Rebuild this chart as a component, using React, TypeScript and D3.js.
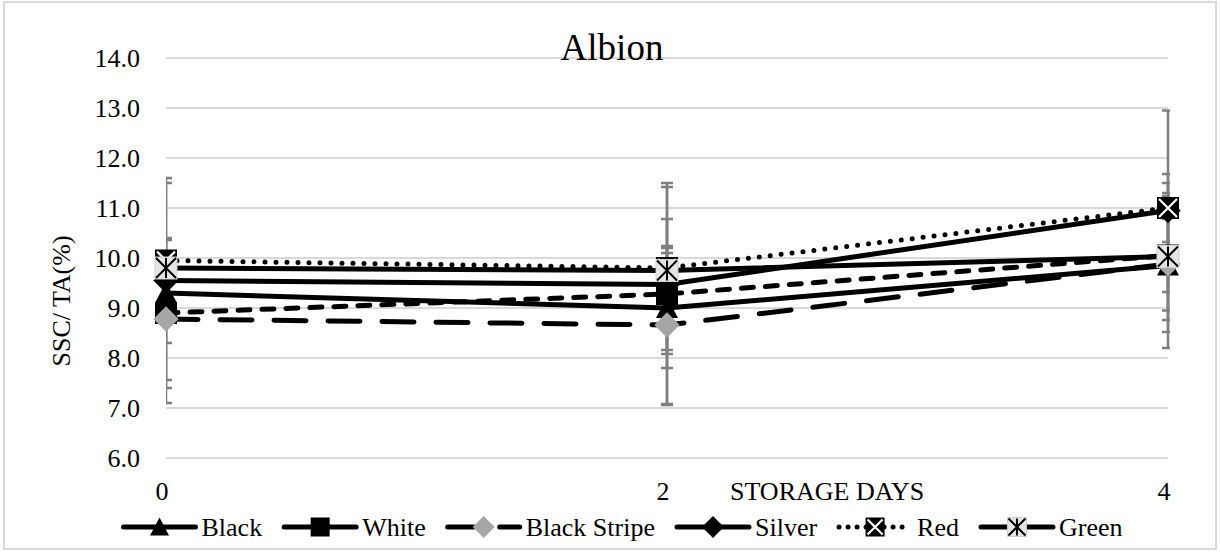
import { useEffect, useRef } from 'react';
import * as d3 from 'd3';

const days = [0, 2, 4];
const yTicks = [6, 7, 8, 9, 10, 11, 12, 13, 14];
const seriesNames = ['Black', 'White', 'Black Stripe', 'Silver', 'Red', 'Green'];

const blackVals = [9.3, 9.0, 9.85];
const whiteVals = [8.9, 9.28, 10.05];
const blackStripeVals = [8.78, 8.66, 9.88];
const silverVals = [9.55, 9.47, 10.95];
const redVals = [9.95, 9.8, 11.0];
const greenVals = [9.8, 9.75, 10.03];

const blackErr = [2.2, 1.2, 1.65];
const whiteErr = [1.5, 2.22, 0.73];
const blackStripeErr = [1.22, 1.58, 1.36];
const silverErr = [0.4, 1.31, 2.0];
const redErr = [1.65, 0.3, 0.68];
const greenErr = [0.56, 1.67, 1.27];

const values = [blackVals, whiteVals, blackStripeVals, silverVals, redVals, greenVals];
const errors = [blackErr, whiteErr, blackStripeErr, silverErr, redErr, greenErr];
const markers = ['triangle', 'square', 'grayDiamond', 'diamond', 'boxX', 'boxStar'];
const dashes = [null, '12 12', '32 22', null, '0 11', null];
const legendDashes = [null, null, '26 26', null, '0 9', null];

const W = 1220;
const H = 553;
const FONT = "'Liberation Serif', 'Times New Roman', 'DejaVu Serif', serif";

function drawMarker(g: any, type: string, cx: number, cy: number, s: number) {
  const h = s / 2;
  if (type === 'triangle') {
    g.append('path')
      .attr('d', `M${cx},${cy - h}L${cx + h},${cy + h * 0.9}L${cx - h},${cy + h * 0.9}Z`)
      .attr('fill', '#000');
  } else if (type === 'square') {
    g.append('rect').attr('x', cx - h).attr('y', cy - h).attr('width', s).attr('height', s).attr('fill', '#000');
  } else if (type === 'grayDiamond' || type === 'diamond') {
    const d = h * 1.15;
    g.append('path')
      .attr('d', `M${cx},${cy - d}L${cx + d},${cy}L${cx},${cy + d}L${cx - d},${cy}Z`)
      .attr('fill', type === 'diamond' ? '#000' : '#a6a6a6');
  } else if (type === 'boxX') {
    g.append('rect').attr('x', cx - h).attr('y', cy - h).attr('width', s).attr('height', s).attr('fill', '#000');
    const k = h - 2;
    g.append('path')
      .attr('d', `M${cx - k},${cy - k}L${cx + k},${cy + k}M${cx + k},${cy - k}L${cx - k},${cy + k}`)
      .attr('stroke', '#fff').attr('stroke-width', 2.2);
  } else if (type === 'boxStar') {
    g.append('rect').attr('x', cx - h).attr('y', cy - h).attr('width', s).attr('height', s)
      .attr('fill', '#e4e4e4').attr('stroke', '#cfcfcf').attr('stroke-width', 1);
    const k = h - 1;
    g.append('path')
      .attr('d', `M${cx - k},${cy - k}L${cx + k},${cy + k}M${cx + k},${cy - k}L${cx - k},${cy + k}M${cx},${cy - k}L${cx},${cy + k}`)
      .attr('stroke', '#000').attr('stroke-width', 2);
  }
}

export default function App() {
  const svgRef = useRef<SVGSVGElement>(null);

  useEffect(() => {
    if (!svgRef.current) return;
    const svg = d3.select(svgRef.current);
    svg.selectAll('*').remove();

    const x = d3.scaleLinear().domain([0, 4]).range([166, 1168]);
    const y = d3.scaleLinear().domain([6, 14]).range([458, 58]);

    svg.append('rect')
      .attr('x', 4).attr('y', 2).attr('width', W - 8).attr('height', H - 6)
      .attr('fill', '#fff').attr('stroke', '#d9d9d9').attr('stroke-width', 2);

    // gridlines
    svg.append('g').selectAll('line').data(yTicks).enter().append('line')
      .attr('x1', x(0)).attr('x2', x(4))
      .attr('y1', d => y(d)).attr('y2', d => y(d))
      .attr('stroke', '#d9d9d9').attr('stroke-width', 2);

    // y tick labels
    svg.append('g').selectAll('text').data(yTicks).enter().append('text')
      .attr('x', 140).attr('y', d => y(d) + 9)
      .attr('text-anchor', 'end')
      .style('font-family', FONT).style('font-size', '26px')
      .text(d => d.toFixed(1));

    // x tick labels
    svg.append('g').selectAll('text').data(days).enter().append('text')
      .attr('x', d => x(d) - 4).attr('y', 500)
      .attr('text-anchor', 'middle')
      .style('font-family', FONT).style('font-size', '26px')
      .text(d => d);

    svg.append('text')
      .attr('x', 730).attr('y', 500)
      .style('font-family', FONT).style('font-size', '26px')
      .text('STORAGE DAYS');

    svg.append('text')
      .attr('transform', 'translate(70,301) rotate(-90)')
      .attr('text-anchor', 'middle')
      .style('font-family', FONT).style('font-size', '26px')
      .text('SSC/ TA(%)');

    svg.append('text')
      .attr('x', 612).attr('y', 60)
      .attr('text-anchor', 'middle')
      .style('font-family', FONT).style('font-size', '37px')
      .text('Albion');

    // error bars, clipped to plot area
    svg.append('clipPath').attr('id', 'plotclip')
      .append('rect').attr('x', x(0)).attr('y', 0).attr('width', x(4) - x(0) + 2).attr('height', H);
    const eg = svg.append('g').attr('clip-path', 'url(#plotclip)');
    values.forEach((vals, si) => {
      vals.forEach((v, i) => {
        const e = errors[si][i];
        const cx = x(days[i]);
        eg.append('line').attr('x1', cx).attr('x2', cx).attr('y1', y(v + e)).attr('y2', y(v - e))
          .attr('stroke', '#7f7f7f').attr('stroke-width', 2.5);
        [v + e, v - e].forEach(t => {
          eg.append('line').attr('x1', cx - 6).attr('x2', cx + 6).attr('y1', y(t)).attr('y2', y(t))
            .attr('stroke', '#7f7f7f').attr('stroke-width', 2.5);
        });
      });
    });

    // lines
    const line = d3.line<number>().x((_, i) => x(days[i])).y(d => y(d));
    values.forEach((vals, si) => {
      svg.append('path')
        .attr('d', line(vals))
        .attr('fill', 'none')
        .attr('stroke', '#000')
        .attr('stroke-width', 5)
        .attr('stroke-linecap', 'round')
        .attr('stroke-linejoin', 'round')
        .attr('stroke-dasharray', dashes[si]);
    });

    // markers
    values.forEach((vals, si) => {
      const mg = svg.append('g');
      vals.forEach((v, i) => drawMarker(mg, markers[si], x(days[i]), y(v), 22));
    });

    // legend
    const lg = svg.append('g');
    const texts = seriesNames.map(n =>
      lg.append('text').style('font-family', FONT).style('font-size', '26px').attr('y', 536).text(n)
    );
    const widths = texts.map(t => (t.node() as SVGTextElement).getComputedTextLength());
    const sample = 72;
    const total = widths.reduce((s, w) => s + w + sample + 6, 0) + 22 * (seriesNames.length - 1);
    let cur = 623 - total / 2;
    seriesNames.forEach((_, si) => {
      const ly = 527;
      lg.append('line')
        .attr('x1', cur).attr('x2', cur + sample).attr('y1', ly).attr('y2', ly)
        .attr('stroke', '#000').attr('stroke-width', 5)
        .attr('stroke-linecap', 'round')
        .attr('stroke-dasharray', legendDashes[si]);
      drawMarker(lg, markers[si], cur + sample / 2, ly, 19);
      texts[si].attr('x', cur + sample + 6);
      cur += sample + 6 + widths[si] + 22;
    });
  }, []);

  return (
    <svg
      ref={svgRef}
      width={W}
      height={H}
      style={{ position: 'absolute', left: 0, top: 0, display: 'block' }}
    />
  );
}
